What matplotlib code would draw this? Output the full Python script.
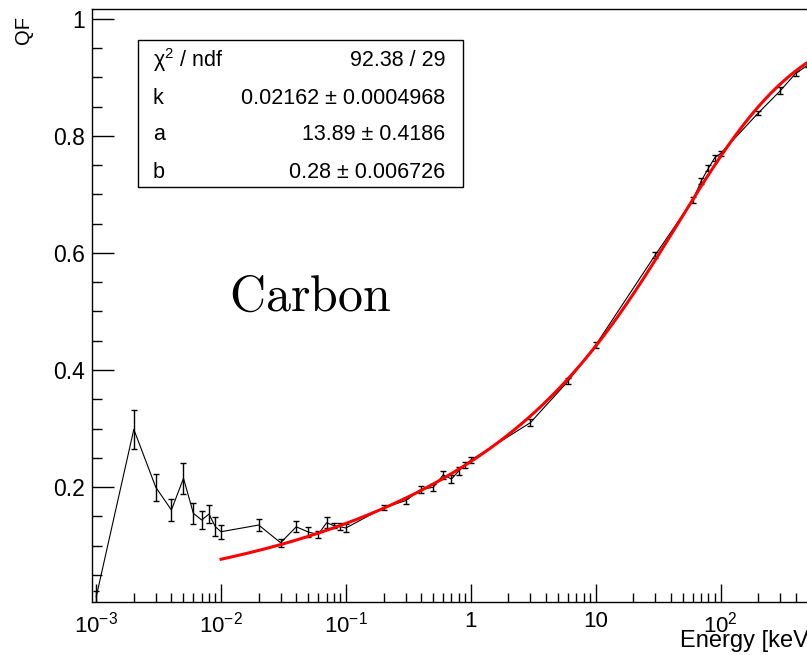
import numpy as np
import matplotlib
matplotlib.use("Agg")
import matplotlib.pyplot as plt
from matplotlib.patches import Rectangle
from matplotlib.ticker import FixedLocator, FixedFormatter

plt.rcParams['font.family'] = ['Liberation Sans', 'DejaVu Sans']
plt.rcParams['mathtext.fontset'] = 'custom'
plt.rcParams['mathtext.rm'] = 'Liberation Sans'
plt.rcParams['mathtext.it'] = 'Liberation Sans:italic'
plt.rcParams['mathtext.bf'] = 'Liberation Sans:bold'

# ---- data ----
energy_keV = [0.001, 0.002, 0.003, 0.004, 0.005, 0.006, 0.007, 0.008, 0.009,
              0.01, 0.02, 0.03, 0.04, 0.05, 0.06, 0.07, 0.08, 0.09,
              0.1, 0.2, 0.3, 0.4, 0.5, 0.6, 0.7, 0.8, 0.9,
              1, 3, 6, 10, 30, 60, 70, 80, 90, 100, 200, 300, 400, 500]
qf = [0.0125, 0.2986, 0.1995, 0.1607, 0.2149, 0.155, 0.1436, 0.1538, 0.132,
      0.1236, 0.135, 0.1048, 0.132, 0.123, 0.119, 0.139, 0.134, 0.132,
      0.130, 0.1646, 0.1766, 0.196, 0.1995, 0.2205, 0.2137, 0.2274, 0.2376,
      0.246, 0.310, 0.3807, 0.4427, 0.5966, 0.6906, 0.723, 0.745, 0.763,
      0.770, 0.839, 0.877, 0.907, 0.921]
qf_err = [0.010, 0.033, 0.023, 0.018, 0.026, 0.018, 0.015, 0.015, 0.016,
          0.012, 0.011, 0.0065, 0.0095, 0.009, 0.0065, 0.009, 0.004, 0.006,
          0.0065, 0.004, 0.005, 0.0055, 0.006, 0.007, 0.007, 0.006, 0.005,
          0.005, 0.006, 0.005, 0.005, 0.005, 0.005, 0.005, 0.005, 0.005,
          0.004, 0.004, 0.006, 0.004, 0.003]

# fit parameters (shown in the stats box)
fit_k = 0.02162
fit_a = 13.89
fit_b = 0.28
fit_range = (0.01, 500)

x_ticks = [1e-3, 1e-2, 1e-1, 1, 10, 100]
x_tick_labels = [r'$10^{-3}$', r'$10^{-2}$', r'$10^{-1}$', '1', '10', r'$10^{2}$']
y_ticks = [0.2, 0.4, 0.6, 0.8, 1.0]
y_tick_labels = ['0.2', '0.4', '0.6', '0.8', '1']

stats_rows = [(r'$\mathrm{\chi}^{2}$ / ndf', '92.38 / 29'),
              ('k', '0.02162 \u00b1 0.0004968'),
              ('a', '13.89 \u00b1 0.4186'),
              ('b', '0.28 \u00b1 0.006726')]

W, H = 807, 655
fig = plt.figure(figsize=(W / 100, H / 100), dpi=100)
fig.patch.set_facecolor('white')

def fx(px):
    return px / W

def fy(py):
    return 1 - py / H

ax_left, ax_right, ax_top, ax_bottom = 91.7, 813, 9, 601.7
ax = fig.add_axes([fx(ax_left), fy(ax_bottom), (ax_right - ax_left) / W,
                   (ax_bottom - ax_top) / H])
ax.set_xscale('log')
ax.set_xlim(9.2e-4, 550)
ax.set_ylim(0.004, 1.017)

# data graph
ax.plot(energy_keV, qf, color='black', lw=0.8, zorder=3)
ax.errorbar(energy_keV, qf, yerr=qf_err, fmt='none', ecolor='black',
            elinewidth=1.0, capsize=2.5, capthick=1.0, zorder=3)

# fit curve
e_fit = np.logspace(np.log10(fit_range[0]), np.log10(fit_range[1]), 400)
g = fit_a * e_fit ** fit_b + e_fit
ax.plot(e_fit, fit_k * g / (1 + fit_k * g), color='#ff0000', lw=2.2, zorder=4)

# axes styling
for s in ax.spines.values():
    s.set_linewidth(1.0)
    s.set_color('black')
ax.xaxis.set_major_locator(FixedLocator(x_ticks))
ax.xaxis.set_major_formatter(FixedFormatter(x_tick_labels))
minor_x = [m * 10.0 ** d for d in range(-3, 3) for m in range(2, 10)]
ax.xaxis.set_minor_locator(FixedLocator(minor_x))
ax.xaxis.set_minor_formatter(FixedFormatter([''] * len(minor_x)))
ax.yaxis.set_major_locator(FixedLocator(y_ticks))
ax.yaxis.set_major_formatter(FixedFormatter(y_tick_labels))
ax.yaxis.set_minor_locator(FixedLocator(np.arange(0.05, 1.01, 0.05)))
ax.tick_params(axis='x', which='major', direction='in', length=13, width=1.0,
               labelsize=16, pad=7, top=False)
ax.tick_params(axis='x', which='minor', direction='in', length=6.5, width=1.0,
               top=False)
ax.tick_params(axis='y', which='major', direction='in', length=16, width=1.0,
               labelsize=16.5, pad=5, right=False)
ax.tick_params(axis='y', which='minor', direction='in', length=7.5, width=1.0,
               right=False)

# axis titles (ROOT style: at the end of the axis)
fig.text(fx(815), fy(641), 'Energy [keV]', ha='right', va='center', fontsize=17)
fig.text(fx(23.5), fy(16), 'QF', ha='center', va='top', rotation=90, fontsize=14.5)

# Carbon label
fig.text(fx(229), fy(311), r'$\mathrm{Carbon}$', math_fontfamily='cm',
         fontsize=36, ha='left', va='baseline')

# stats box
bx0, bx1, by0, by1 = 138.3, 463, 40, 186.7
fig.add_artist(Rectangle((fx(bx0), fy(by1)), (bx1 - bx0) / W, (by1 - by0) / H,
                         transform=fig.transFigure, facecolor='white',
                         edgecolor='black', lw=1.0, zorder=10))
baselines = [66.5, 103.5, 140.5, 177.5]
for (lab, val), yb in zip(stats_rows, baselines):
    fig.text(fx(152.7), fy(yb), lab, ha='left', va='baseline', fontsize=15.5, zorder=11)
    fig.text(fx(445), fy(yb), val, ha='right', va='baseline', fontsize=15.5, zorder=11)

fig.savefig('out.png', dpi=100)
